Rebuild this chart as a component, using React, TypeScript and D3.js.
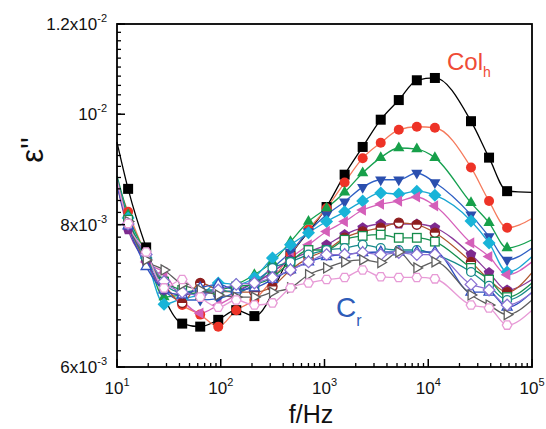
import React from 'react';
import * as d3 from 'd3';

// Frequencies (Hz) of the measured points
const frequencies = [12.8, 19.1, 28.4, 42.5, 63.4, 94.6, 141, 211, 315, 470, 701, 1047, 1563, 2333, 3483, 5200, 7762, 11588, 25823, 38548, 57544];

// Values of ε'' in units of 1e-3
const UNIT = 1e-3;
const sBlack = [8.60, 7.64, null, 6.55, 6.51, 6.60, 6.73, 6.65, null, 7.52, null, 8.29, 8.85, 9.36, 9.89, 10.29, 10.71, 10.76, 9.86, 9.16, 8.56];
const sRed = [8.21, 7.53, 7.09, 6.80, 6.67, 6.51, 6.73, 6.87, 7.16, 7.53, 7.92, 8.27, 8.71, 9.15, 9.44, 9.69, 9.75, 9.73, 8.98, 8.39, 7.95];
const sGreen = [8.16, 7.53, 6.91, 6.94, 6.98, 7.01, 7.09, 7.23, 7.42, 7.73, 8.05, 8.27, 8.54, 8.88, 9.16, 9.34, 9.32, 9.16, 8.36, 8.03, 7.63];
const sBlue = [8.08, 7.45, 7.01, 6.87, 6.87, 6.89, 6.98, 7.13, 7.33, 7.57, 7.89, 8.16, 8.38, 8.63, 8.76, 8.76, 8.88, 8.71, 8.16, 7.81, 7.45];
const sCyan = [8.11, 7.48, 6.81, 6.89, 6.94, 7.11, 7.09, 7.19, 7.48, 7.68, 7.87, 8.05, 8.21, 8.39, 8.53, 8.51, 8.56, 8.49, 8.06, 7.71, 7.27];
const sMagenta = [8.00, 7.42, 7.26, 6.87, 6.69, 6.80, 6.94, 7.09, 7.27, 7.48, 7.68, 7.89, 8.05, 8.24, 8.34, 8.39, 8.46, 8.31, 7.71, 7.50, 7.23];
const sPurple = [7.92, 7.42, 7.01, 6.94, 6.97, 6.98, 7.01, 7.11, 7.27, 7.45, 7.57, 7.68, 7.84, 7.95, 8.01, 8.01, 8.01, 7.95, 7.53, 7.26, 7.01];
const sBrown = [8.05, 7.48, 7.09, 6.83, 7.11, 7.01, 6.98, 6.98, 7.06, 7.30, 7.48, 7.60, 7.79, 7.89, 7.95, 8.03, 8.00, 7.87, 7.42, 7.16, 6.98];
const sGreenOpen = [8.08, 7.53, 7.13, 7.01, 6.94, 7.01, 7.06, 7.09, 7.19, 7.42, 7.60, 7.60, 7.76, 7.82, 7.84, 7.79, 7.79, 7.73, 7.33, 7.16, 6.91];
const sTeal = [8.01, 7.48, 7.09, 6.98, 7.01, 7.01, 6.98, 7.09, 7.33, 7.42, 7.53, 7.60, 7.63, 7.68, 7.63, 7.60, 7.60, 7.53, 7.27, 7.07, 6.87];
const sBlueOpen = [7.98, 7.35, 7.01, 6.94, 7.04, 7.09, 7.01, 7.04, 7.16, 7.30, 7.42, 7.50, 7.53, 7.56, 7.57, 7.57, 7.57, 7.57, 6.98, 6.98, 6.77];
const sViolet = [8.01, 7.53, 7.13, 6.98, 6.94, 7.01, 7.09, 7.11, 7.19, 7.30, 7.42, 7.53, 7.53, 7.56, 7.53, 7.56, 7.53, 7.53, 7.09, 7.01, 6.80];
const sGray = [8.05, 7.45, 7.30, 7.09, 7.01, 6.94, 6.91, 6.91, 6.98, 7.04, 7.23, 7.33, 7.42, 7.45, 7.41, 7.57, 7.33, 7.42, 6.94, 6.80, 6.67];
const sPink = [8.02, 7.57, 7.04, 7.16, 6.91, 6.77, 6.87, 6.80, 6.83, 7.04, 7.11, 7.16, 7.19, 7.30, 7.20, 7.19, 7.19, 7.17, 6.80, 6.76, 6.53];

// Fitted-curve values at the axis ends (10 Hz, 1e5 Hz), units 1e-3
const fitStart = [9.45, 8.72, 8.83, 8.79, 8.76, 8.72, 8.67, 8.72, 8.76, 8.69, 8.67, 8.72, 8.76, 8.76];
const fitEnd = [8.54, 8.10, 7.76, 7.63, 7.50, 7.42, 7.16, 7.26, 7.11, 7.06, 6.98, 6.97, 6.87, 6.73];

const xTickExps = [1, 2, 3, 4, 5];
const yMajorTicks = [6e-3, 8e-3, 1e-2, 1.2e-2];
const yTickLabels = [['6x10', '-3'], ['8x10', '-3'], ['10', '-2'], ['1.2x10', '-2']];

type Style = { shape: string; fill: string; stroke: string; line: string };
const styles: Style[] = [
  { shape: 'square', fill: '#000000', stroke: '#000000', line: '#000000' },
  { shape: 'circle', fill: '#ee3327', stroke: '#ee3327', line: '#f57a5c' },
  { shape: 'triUp', fill: '#17a04a', stroke: '#17a04a', line: '#15a04f' },
  { shape: 'triDown', fill: '#2b4fae', stroke: '#2b4fae', line: '#2f5fc4' },
  { shape: 'diamond', fill: '#19b4d8', stroke: '#19b4d8', line: '#1aa6d2' },
  { shape: 'triLeft', fill: '#d45fb9', stroke: '#d45fb9', line: '#d660ba' },
  { shape: 'pentagon', fill: '#7d2a8f', stroke: '#7d2a8f', line: '#8a3a9c' },
  { shape: 'half', fill: '#8e1e1e', stroke: '#8e1e1e', line: '#b0562e' },
  { shape: 'squareOpen', fill: '#ffffff', stroke: '#158c4b', line: '#168f4e' },
  { shape: 'circleOpen', fill: '#ffffff', stroke: '#178a8c', line: '#178a8c' },
  { shape: 'triUpOpen', fill: '#ffffff', stroke: '#3050c0', line: '#3050c0' },
  { shape: 'diamondOpen', fill: '#ffffff', stroke: '#8a70d2', line: '#8a70d2' },
  { shape: 'triRightOpen', fill: '#ffffff', stroke: '#5e5e5e', line: '#5e5e5e' },
  { shape: 'hexOpen', fill: '#ffffff', stroke: '#e79ad6', line: '#e79ad6' },
];
const seriesValues = [sBlack, sRed, sGreen, sBlue, sCyan, sMagenta, sPurple, sBrown, sGreenOpen, sTeal, sBlueOpen, sViolet, sGray, sPink];

const W = 546, H = 429;
const x = d3.scaleLog().domain([10, 1e5]).range([117, 532]);
const y = d3.scaleLog().domain([6e-3, 1.2e-2]).range([367, 24]);

function poly(n: number, r: number, rotDeg: number) {
  const pts: string[] = [];
  for (let i = 0; i < n; i++) {
    const a = ((rotDeg + (360 * i) / n) * Math.PI) / 180;
    pts.push(`${(r * Math.cos(a)).toFixed(2)},${(r * Math.sin(a)).toFixed(2)}`);
  }
  return 'M' + pts.join('L') + 'Z';
}

function Marker({ cx, cy, st }: { cx: number; cy: number; st: Style }) {
  const sw = 1.3;
  const t = `translate(${cx},${cy})`;
  switch (st.shape) {
    case 'square':
      return <rect x={cx - 5} y={cy - 5} width={10} height={10} fill={st.fill} />;
    case 'squareOpen':
      return <rect x={cx - 4.3} y={cy - 4.3} width={8.6} height={8.6} fill={st.fill} stroke={st.stroke} strokeWidth={sw} />;
    case 'circle':
      return <circle cx={cx} cy={cy} r={5} fill={st.fill} />;
    case 'circleOpen':
      return <circle cx={cx} cy={cy} r={4.4} fill={st.fill} stroke={st.stroke} strokeWidth={sw} />;
    case 'half':
      return (
        <g transform={t}>
          <circle r={4.6} fill="#ffffff" stroke={st.stroke} strokeWidth={sw} />
          <path d="M-4.6,0A4.6,4.6 0 0 1 4.6,0Z" fill={st.fill} />
        </g>
      );
    case 'triUp':
      return <path transform={t} d={poly(3, 6.5, -90)} fill={st.fill} />;
    case 'triDown':
      return <path transform={t} d={poly(3, 6.5, 90)} fill={st.fill} />;
    case 'triLeft':
      return <path transform={t} d={poly(3, 6.5, 180)} fill={st.fill} />;
    case 'triUpOpen':
      return <path transform={t} d={poly(3, 5.8, -90)} fill={st.fill} stroke={st.stroke} strokeWidth={sw} />;
    case 'triRightOpen':
      return <path transform={t} d={poly(3, 5.8, 0)} fill={st.fill} stroke={st.stroke} strokeWidth={sw} />;
    case 'diamond':
      return <path transform={t} d={poly(4, 6.5, -90)} fill={st.fill} />;
    case 'diamondOpen':
      return <path transform={t} d={poly(4, 5.8, -90)} fill={st.fill} stroke={st.stroke} strokeWidth={sw} />;
    case 'pentagon':
      return <path transform={t} d={poly(5, 5.6, -90)} fill={st.fill} />;
    case 'hexOpen':
      return <path transform={t} d={poly(6, 4.8, 0)} fill={st.fill} stroke={st.stroke} strokeWidth={sw} />;
  }
  return null;
}

export default function App() {
  const line = d3
    .line<[number, number]>()
    .x((d) => x(d[0]))
    .y((d) => y(d[1]))
    .curve(d3.curveMonotoneX);

  const xMinor: number[] = [];
  for (let e = 1; e < 5; e++) for (let m = 2; m <= 9; m++) xMinor.push(m * Math.pow(10, e));
  const yMinor = d3.range(6, 12.001, 0.2).map((v) => v * UNIT);

  const font = 'Liberation Sans, Arial, sans-serif';
  const [x0, x1] = x.range();
  const [yb, yt] = y.range();

  return (
    <svg width={W} height={H} style={{ display: 'block', position: 'absolute', left: 0, top: 0 }} fontFamily={font}>
      <rect width={W} height={H} fill="#ffffff" />
      {/* fitted lines */}
      {seriesValues.map((vals, i) => {
        const pts: [number, number][] = [[10, fitStart[i] * UNIT]];
        vals.forEach((v, k) => {
          if (v != null) pts.push([frequencies[k], v * UNIT]);
        });
        pts.push([1e5, fitEnd[i] * UNIT]);
        return <path key={'l' + i} d={line(pts) || ''} fill="none" stroke={styles[i].line} strokeWidth={1.3} />;
      })}
      {/* markers */}
      {seriesValues.map((vals, i) => (
        <g key={'m' + i}>
          {vals.map((v, k) =>
            v == null ? null : <Marker key={k} cx={x(frequencies[k])} cy={y(v * UNIT)} st={styles[i]} />
          )}
        </g>
      ))}
      {/* frame */}
      <rect x={x0} y={yt} width={x1 - x0} height={yb - yt} fill="none" stroke="#000" strokeWidth={1.8} />
      {/* x ticks */}
      {xMinor.map((f, i) => (
        <line key={'xm' + i} x1={x(f)} x2={x(f)} y1={yb} y2={yb - 4} stroke="#000" strokeWidth={1.3} />
      ))}
      {xTickExps.map((e) => (
        <g key={'xt' + e}>
          <line x1={x(Math.pow(10, e))} x2={x(Math.pow(10, e))} y1={yb} y2={yb - 8} stroke="#000" strokeWidth={1.5} />
          <text x={x(Math.pow(10, e))} y={394} textAnchor="middle" fontSize={17} fill="#111">
            10<tspan fontSize={11} dy={-8}>{e}</tspan>
          </text>
        </g>
      ))}
      {/* y ticks */}
      {yMinor.map((v, i) => (
        <line key={'ym' + i} x1={x0} x2={x0 + 4} y1={y(v)} y2={y(v)} stroke="#000" strokeWidth={1.3} />
      ))}
      {yMajorTicks.map((v, i) => (
        <g key={'yt' + i}>
          <line x1={x0} x2={x0 + 8} y1={y(v)} y2={y(v)} stroke="#000" strokeWidth={1.5} />
          <text x={107} y={y(v) + 6} textAnchor="end" fontSize={17} fill="#111">
            {yTickLabels[i][0]}
            <tspan fontSize={11} dy={-8}>{yTickLabels[i][1]}</tspan>
          </text>
        </g>
      ))}
      {/* axis titles */}
      <text x={311} y={423} textAnchor="middle" fontSize={25} fill="#111">f/Hz</text>
      <text transform="translate(43,150) rotate(-90)" textAnchor="middle" fontSize={31} fill="#111">ε''</text>
      {/* annotations */}
      <text x={447} y={70} fontSize={24} fill="#ef4b36">
        Col<tspan fontSize={14} dy={7}>h</tspan>
      </text>
      <text x={336} y={317} fontSize={28} fill="#2e5cb8">
        C<tspan fontSize={16} dy={9}>r</tspan>
      </text>
    </svg>
  );
}
